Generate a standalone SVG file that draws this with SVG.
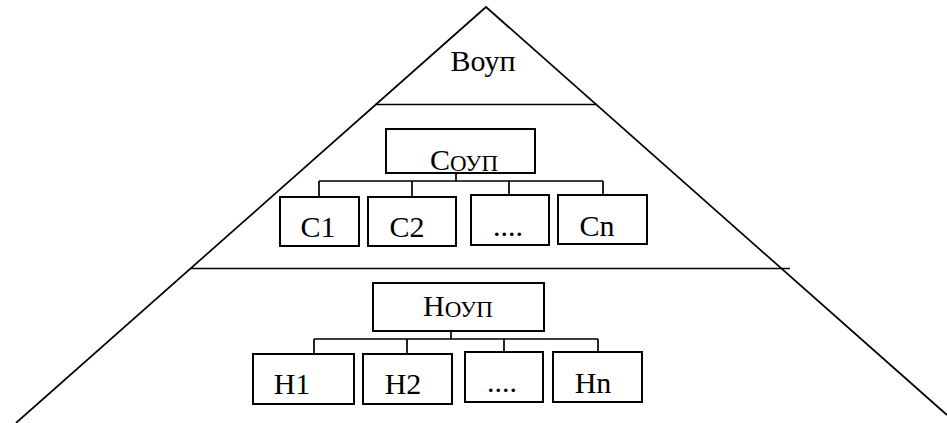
<svg xmlns="http://www.w3.org/2000/svg" width="947" height="423" viewBox="0 0 947 423">
  <style>
    .edge { fill: none; stroke: #000; stroke-width: 1.7; }
    .box { fill: #fff; stroke: #000; stroke-width: 2; }
    .wire { fill: none; stroke: #000; stroke-width: 1.7; }
    .lbl { font-family: "Liberation Serif", "Times New Roman", serif; font-size: 30px; fill: #000; text-anchor: middle; }
    .sub { font-size: 23px; }
  </style>
  <rect width="947" height="423" fill="#fff"/>

  <!-- pyramid outline and level dividers -->
  <g id="pyramid">
    <polyline class="edge" points="16,423 486,7 947,415"/>
    <line class="edge" x1="375" y1="104.5" x2="597" y2="104.5"/>
    <line class="edge" x1="191" y1="268.5" x2="790" y2="268.5"/>
  </g>

  <!-- connectors -->
  <g id="connectors">
    <path class="wire" d="M456,173 V181 M319,181 H603 M319,181 V197 M412,181 V197 M509,181 V195 M603,181 V195"/>
    <path class="wire" d="M451,331 V339 M314,339 H598 M314,339 V354 M407,339 V354 M504,339 V352 M598,339 V352"/>
  </g>

  <!-- top level -->
  <g id="B_oup">
    <text class="lbl" x="483" y="71">Воуп</text>
  </g>

  <!-- middle level -->
  <g id="C_oup">
    <rect class="box" x="386" y="129" width="149" height="44"/>
    <text class="lbl" x="464" y="170">С<tspan class="sub" dy="1">ОУП</tspan></text>
  </g>
  <g id="C1">
    <rect class="box" x="280" y="197" width="79" height="49"/>
    <text class="lbl" x="318" y="237">С1</text>
  </g>
  <g id="C2">
    <rect class="box" x="368" y="197" width="88" height="49"/>
    <text class="lbl" x="407" y="237">С2</text>
  </g>
  <g id="C_dots">
    <rect class="box" x="471" y="195" width="78" height="50"/>
    <text class="lbl" x="508" y="236">....</text>
  </g>
  <g id="Cn">
    <rect class="box" x="558" y="195" width="89" height="49"/>
    <text class="lbl" x="597" y="236">Сn</text>
  </g>

  <!-- bottom level -->
  <g id="H_oup">
    <rect class="box" x="373" y="283" width="171" height="48"/>
    <text class="lbl" x="458" y="316">Н<tspan class="sub" dy="1">ОУП</tspan></text>
  </g>
  <g id="H1">
    <rect class="box" x="253" y="354" width="101" height="50"/>
    <text class="lbl" x="292" y="394">Н1</text>
  </g>
  <g id="H2">
    <rect class="box" x="363" y="354" width="89" height="50"/>
    <text class="lbl" x="403" y="394">Н2</text>
  </g>
  <g id="H_dots">
    <rect class="box" x="465" y="352" width="78" height="50"/>
    <text class="lbl" x="502" y="392">....</text>
  </g>
  <g id="Hn">
    <rect class="box" x="553" y="352" width="89" height="50"/>
    <text class="lbl" x="593" y="393">Нn</text>
  </g>
</svg>
